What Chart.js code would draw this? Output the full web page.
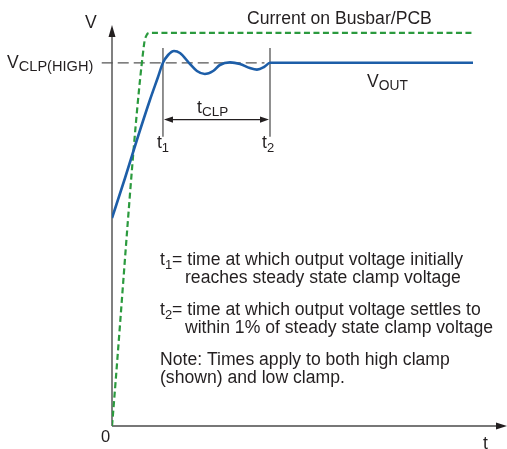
<!DOCTYPE html>
<html>
<head>
<meta charset="utf-8">
<script src="https://cdn.jsdelivr.net/npm/chart.js@4.4.0/dist/chart.umd.min.js"></script>
<style>
  html, body { margin: 0; padding: 0; background: #fff; }
  canvas { display: block; }
</style>
</head>
<body>
<canvas id="mycanvas" width="507" height="449"></canvas>
<script>
// time in arbitrary units (0..100), voltage as % of axis height
var vClamp = 90.8;
var t1 = 12.9;
var t2 = 40.0;

var voutX = [0, 3.3, 6.3, 9.6, 11.65, 12.9, 14.2, 15.7, 17.2, 19.75, 21.5, 23.5, 25.6, 27.3, 29.9, 32.4, 34.9, 36.7, 38.5, 40.0, 91.4];
var voutY = [52, 62, 71.5, 81.5, 87.25, 90.8, 92.75, 93.75, 93.25, 90.5, 88.75, 88, 88.75, 90.25, 90.9, 90.5, 89.5, 89.1, 89.75, 90.8, 90.8];

var currentX = [0, 8.1, 8.7, 9.6, 91.4];
var currentY = [0, 95.3, 97.6, 98.3, 98.3];

var clampX = [-2.6, 38.6];

var FONT = '"Liberation Sans", Arial, Helvetica, sans-serif';
var TXT = '#231f20';
var BIG = 17.6;

function pts(xs, ys) {
    var out = [];
    for (var i in xs) {
        out.push({x: xs[i], y: ys[i]});
    }
    return out;
}

// draw a row of text runs (main text + subscripts)
function runs(ctx, list, x, y) {
    var cx = x;
    list.forEach(function(r) {
        ctx.font = r.size + 'px ' + FONT;
        ctx.fillText(r.text, cx, y + (r.dy || 0));
        cx += ctx.measureText(r.text).width;
    });
}

var annotate = {
    id: 'annotate',
    beforeDatasetsDraw: function(chart) {
        var ctx = chart.ctx;
        var xs = chart.scales.x, ys = chart.scales.y;
        var x0 = xs.getPixelForValue(0), y0 = ys.getPixelForValue(0);
        var top = chart.chartArea.top, right = chart.chartArea.right;
        ctx.save();
        ctx.strokeStyle = '#4a4a4a';
        ctx.fillStyle = '#231f20';
        ctx.lineWidth = 1.4;
        // y axis
        ctx.beginPath();
        ctx.moveTo(x0, y0);
        ctx.lineTo(x0, top + 10);
        ctx.stroke();
        ctx.beginPath();
        ctx.moveTo(x0, top - 1);
        ctx.lineTo(x0 - 3.5, top + 11);
        ctx.lineTo(x0 + 3.5, top + 11);
        ctx.closePath();
        ctx.fill();
        // x axis
        ctx.beginPath();
        ctx.moveTo(x0, y0);
        ctx.lineTo(right - 10, y0);
        ctx.stroke();
        ctx.beginPath();
        ctx.moveTo(right, y0);
        ctx.lineTo(right - 11, y0 - 3.5);
        ctx.lineTo(right - 11, y0 + 3.5);
        ctx.closePath();
        ctx.fill();

        // t1 / t2 markers
        var p1 = xs.getPixelForValue(t1), p2 = xs.getPixelForValue(t2);
        var mTop = ys.getPixelForValue(94.5), mBot = ys.getPixelForValue(72.3);
        ctx.strokeStyle = '#6b6b6b';
        ctx.lineWidth = 1.5;
        [p1, p2].forEach(function(p) {
            ctx.beginPath();
            ctx.moveTo(p, mTop);
            ctx.lineTo(p, mBot);
            ctx.stroke();
        });
        // double arrow
        var ay = ys.getPixelForValue(76.6);
        ctx.strokeStyle = '#231f20';
        ctx.lineWidth = 1.3;
        ctx.beginPath();
        ctx.moveTo(p1 + 6, ay);
        ctx.lineTo(p2 - 6, ay);
        ctx.stroke();
        ctx.beginPath();
        ctx.moveTo(p1 + 1, ay);
        ctx.lineTo(p1 + 10, ay - 3.2);
        ctx.lineTo(p1 + 10, ay + 3.2);
        ctx.closePath();
        ctx.moveTo(p2 - 1, ay);
        ctx.lineTo(p2 - 10, ay - 3.2);
        ctx.lineTo(p2 - 10, ay + 3.2);
        ctx.closePath();
        ctx.fill();
        ctx.restore();
    },
    afterDatasetsDraw: function(chart) {
        var ctx = chart.ctx;
        var xs = chart.scales.x;
        var p1 = xs.getPixelForValue(t1), p2 = xs.getPixelForValue(t2);
        ctx.save();
        ctx.fillStyle = TXT;
        ctx.textBaseline = 'alphabetic';
        ctx.textAlign = 'left';

        runs(ctx, [{text: 'V', size: BIG}], 85, 28);
        runs(ctx, [{text: 'V', size: BIG}, {text: 'CLP(HIGH)', size: 14.6, dy: 3}], 7, 68);
        runs(ctx, [{text: 'Current on Busbar/PCB', size: BIG}], 247, 24);
        runs(ctx, [{text: 'V', size: BIG}, {text: 'OUT', size: 13.8, dy: 3}], 367, 87);
        runs(ctx, [{text: 't', size: BIG}, {text: 'CLP', size: 13.5, dy: 3}], 197, 113);
        runs(ctx, [{text: 't', size: BIG}, {text: '1', size: 13, dy: 4}], p1 - 6, 148);
        runs(ctx, [{text: 't', size: BIG}, {text: '2', size: 13, dy: 4}], p2 - 8, 148);

        runs(ctx, [{text: 't', size: BIG}, {text: '1', size: 13, dy: 4}, {text: '= time at which output voltage initially', size: BIG}], 160, 265);
        runs(ctx, [{text: 'reaches steady state clamp voltage', size: BIG}], 185, 283);
        runs(ctx, [{text: 't', size: BIG}, {text: '2', size: 13, dy: 4}, {text: '= time at which output voltage settles to', size: BIG}], 160, 315);
        runs(ctx, [{text: 'within 1% of steady state clamp voltage', size: BIG}], 185, 333);
        runs(ctx, [{text: 'Note: Times apply to both high clamp', size: BIG}], 160, 365);
        runs(ctx, [{text: '(shown) and low clamp.', size: BIG}], 160, 383);

        runs(ctx, [{text: '0', size: 16.5}], 101, 442);
        runs(ctx, [{text: 't', size: BIG}], 483, 449);
        ctx.restore();
    }
};

var ctx = document.getElementById('mycanvas');

var chart = new Chart(ctx, {
    type: 'scatter',
    data: {
        datasets: [
            {
                label: 'VOUT',
                data: pts(voutX, voutY),
                showLine: true,
                borderColor: '#1d5ea8',
                borderWidth: 2.6,
                pointRadius: 0,
                cubicInterpolationMode: 'monotone'
            },
            {
                label: 'Current on Busbar/PCB',
                data: pts(currentX, currentY),
                showLine: true,
                borderColor: '#2b9a3e',
                borderWidth: 2.2,
                borderDash: [6, 3.5],
                pointRadius: 0,
                cubicInterpolationMode: 'monotone'
            },
            {
                label: 'VCLP(HIGH)',
                data: pts(clampX, [vClamp, vClamp]),
                showLine: true,
                borderColor: '#555555',
                borderWidth: 1.2,
                borderDash: [11, 5],
                pointRadius: 0,
                clip: false
            }
        ]
    },
    options: {
        responsive: false,
        animation: false,
        layout: { padding: { left: 112, top: 26, right: 0, bottom: 23 } },
        plugins: {
            legend: { display: false },
            tooltip: { enabled: false }
        },
        scales: {
            x: { type: 'linear', min: 0, max: 100, display: false },
            y: { type: 'linear', min: 0, max: 100, display: false }
        }
    },
    plugins: [annotate]
});
</script>
</body>
</html>
